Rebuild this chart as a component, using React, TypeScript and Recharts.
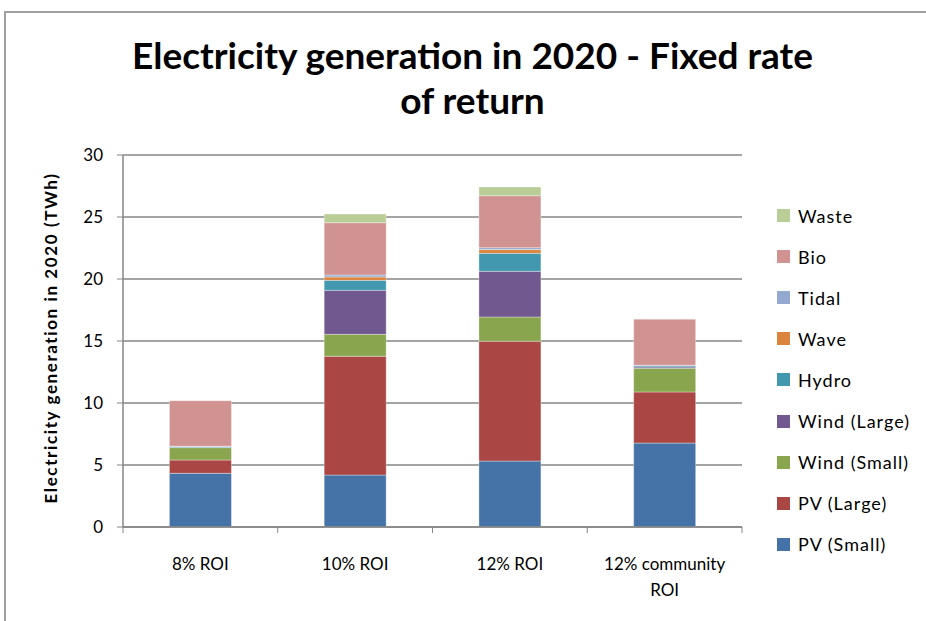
// Stacked column chart: electricity generation by technology in 2020 (fixed rate of return).
import { Bar, BarChart, CartesianGrid, Text, XAxis, YAxis } from 'recharts'

const categories = ['8% ROI', '10% ROI', '12% ROI', '12% community ROI']
const pvSmall = [4.33, 4.19, 5.32, 6.77]
const pvLarge = [1.07, 9.58, 9.66, 4.12]
const windSmall = [1.0, 1.77, 1.96, 1.91]
const windLarge = [0.02, 3.55, 3.68, 0.1]
const hydro = [0.08, 0.8, 1.45, 0.1]
const wave = [0, 0.27, 0.3, 0]
const tidal = [0.02, 0.16, 0.16, 0.05]
const bio = [3.67, 4.22, 4.19, 3.71]
const waste = [0, 0.7, 0.7, 0]
const yTicks = [0, 5, 10, 15, 20, 25, 30]

const series = [
  { key: 'pvSmall', label: 'PV (Small)', values: pvSmall, color: '#4572A7' },
  { key: 'pvLarge', label: 'PV (Large)', values: pvLarge, color: '#AA4643' },
  { key: 'windSmall', label: 'Wind (Small)', values: windSmall, color: '#89A54E' },
  { key: 'windLarge', label: 'Wind (Large)', values: windLarge, color: '#71588F' },
  { key: 'hydro', label: 'Hydro', values: hydro, color: '#4198AF' },
  { key: 'wave', label: 'Wave', values: wave, color: '#DB843D' },
  { key: 'tidal', label: 'Tidal', values: tidal, color: '#93A9CF' },
  { key: 'bio', label: 'Bio', values: bio, color: '#D19392' },
  { key: 'waste', label: 'Waste', values: waste, color: '#B9CD96' },
]

const data = categories.map((name, i) => {
  const row: Record<string, string | number> = { name }
  series.forEach((s) => (row[s.key] = s.values[i]))
  return row
})

const font = 'Lato, "Open Sans", sans-serif'
const W = 926
const H = 621
const plotLeft = 123
const plotRight = 742
const band = (plotRight - plotLeft) / categories.length

function CategoryTick(props: any) {
  const { x, y, payload, index } = props
  return (
    <g>
      <line x1={x - band / 2} x2={x - band / 2} y1={y - 8} y2={y - 2} stroke="#868686" />
      {index === categories.length - 1 && (
        <line x1={x + band / 2} x2={x + band / 2} y1={y - 8} y2={y - 2} stroke="#868686" />
      )}
      <Text
        x={x}
        y={y + 23}
        width={125}
        textAnchor="middle"
        verticalAnchor="start"
        lineHeight={26}
        fontFamily={font}
        fontSize={17}
        fill="#000"
      >
        {payload.value}
      </Text>
    </g>
  )
}

export default function App() {
  return (
    <div style={{ position: 'absolute', left: 0, top: 0, width: W, height: H, background: '#fff', overflow: 'hidden' }}>
      <div
        style={{
          position: 'absolute',
          left: 4,
          top: 11,
          width: W,
          height: H,
          borderTop: '2px solid #a0a0a0',
          borderLeft: '2px solid #a0a0a0',
        }}
      />
      <div
        style={{
          position: 'absolute',
          left: 60,
          width: 825,
          top: 32,
          textAlign: 'center',
          fontFamily: font,
          fontWeight: 700,
          fontSize: 37,
          lineHeight: '45px',
        }}
      >
        Electricity generation in 2020 - Fixed rate
        <br />
        of return
      </div>
      <div
        style={{
          position: 'absolute',
          left: 50,
          top: 338,
          transform: 'translate(-50%, -50%) rotate(-90deg)',
          whiteSpace: 'nowrap',
          fontFamily: font,
          fontWeight: 700,
          fontSize: 17,
          letterSpacing: 1.6,
        }}
      >
        Electricity generation in 2020 (TWh)
      </div>
      <div style={{ position: 'absolute', left: 0, top: 0 }}>
        <BarChart
          width={W}
          height={H}
          data={data}
          barCategoryGap="30%"
          margin={{ top: 155, left: plotLeft - 60, right: W - plotRight, bottom: H - 527 - 60 }}
        >
          <CartesianGrid vertical={false} stroke="#868686" strokeWidth={1.5} />
          <XAxis
            dataKey="name"
            height={60}
            axisLine={{ stroke: '#868686', strokeWidth: 1.5 }}
            tickLine={false}
            tick={<CategoryTick />}
            interval={0}
          />
          <YAxis
            width={60}
            domain={[0, 30]}
            ticks={yTicks}
            interval={0}
            axisLine={{ stroke: '#868686', strokeWidth: 1.5 }}
            tickLine={{ stroke: '#868686' }}
            tickSize={6}
            tickMargin={14}
            tick={{ fontFamily: font, fontSize: 17, fill: '#000' }}
          />
          {series.map((s) => (
            <Bar
              key={s.key}
              dataKey={s.key}
              stackId="a"
              fill={s.color}
              stroke="rgba(255,255,255,0.35)"
              strokeWidth={1}
              isAnimationActive={false}
            />
          ))}
        </BarChart>
      </div>
      <div style={{ position: 'absolute', left: 777, top: 195, fontFamily: font, fontSize: 18, letterSpacing: 1 }}>
        {[...series].reverse().map((s) => (
          <div key={s.key} style={{ display: 'flex', alignItems: 'center', height: 41.1 }}>
            <span style={{ display: 'inline-block', width: 13, height: 13, background: s.color, marginRight: 8 }} />
            {s.label}
          </div>
        ))}
      </div>
    </div>
  )
}
